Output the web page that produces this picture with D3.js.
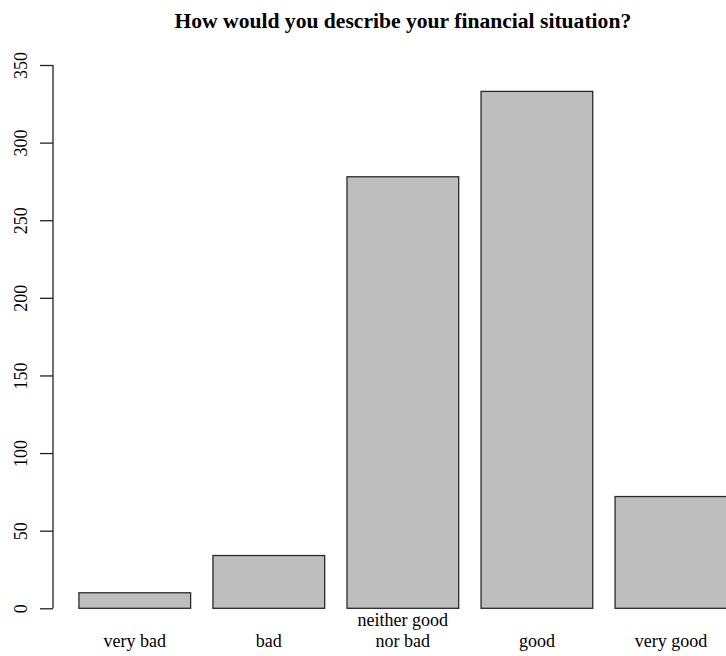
<!DOCTYPE html>
<html>
<head>
<meta charset="utf-8">
<script src="https://cdn.jsdelivr.net/npm/d3@7"></script>
<style>
  html, body { margin: 0; padding: 0; background: #fff; }
  svg { display: block; }
  text { font-family: "Liberation Serif", "Times New Roman", serif; fill: #000; }
</style>
</head>
<body>
<svg id="chart" width="726" height="656"></svg>
<script>
const title = "How would you describe your financial situation?";
const categories = ["very bad", "bad", "neither good\nnor bad", "good", "very good"];
const counts = [10, 34, 278, 333, 72];
const yTicks = [0, 50, 100, 150, 200, 250, 300, 350];

const svg = d3.select("#chart");
const W = 726, H = 656;

// R barplot style: width 1, space 0.2, xlim extended 4%
const barW = 1, space = 0.2;
const xMin = space, xMax = categories.length * (barW + space);
const ext = (xMax - xMin) * 0.04;
const unit = 111.7;
const left = 53;
const x = d3.scaleLinear()
  .domain([xMin - ext, xMax + ext])
  .range([left, left + (xMax - xMin + 2 * ext) * unit]);
const y = d3.scaleLinear().domain([0, 350]).range([608.3, 65]);

// bars
svg.append("g").selectAll("rect")
  .data(counts)
  .join("rect")
  .attr("x", (d, i) => x(space + i * (barW + space)))
  .attr("width", (d, i) => x(space + i * (barW + space) + barW) - x(space + i * (barW + space)))
  .attr("y", d => y(d))
  .attr("height", d => y(0) - y(d))
  .attr("fill", "#bebebe")
  .attr("stroke", "#2a2a2a")
  .attr("stroke-width", 1.3);

// y axis
const yAxis = d3.axisLeft(y).tickValues(yTicks).tickSize(13).tickPadding(0).tickFormat(d3.format("d"));
const gy = svg.append("g").attr("transform", `translate(${x(xMin - ext)},0)`).call(yAxis);
gy.select(".domain").remove();
gy.append("line")
  .attr("x1", 0).attr("x2", 0)
  .attr("y1", y(yTicks[0])).attr("y2", y(yTicks[yTicks.length - 1]))
  .attr("stroke", "#222").attr("stroke-width", 1.3);
gy.selectAll(".tick line").attr("stroke", "#222").attr("stroke-width", 1.3);
gy.selectAll(".tick text")
  .attr("x", null).attr("dy", null)
  .attr("text-anchor", "middle")
  .attr("transform", "translate(-26,0) rotate(-90)")
  .attr("font-family", "Liberation Serif")
  .attr("font-size", 18)
  .attr("fill", "#000");

// x labels
const baseLine = 647;
const lineH = 21;
categories.forEach((c, i) => {
  const lines = c.split("\n");
  const cx = x(space + i * (barW + space) + barW / 2);
  const t = svg.append("text")
    .attr("text-anchor", "middle")
    .attr("font-size", 18);
  lines.forEach((ln, j) => {
    t.append("tspan")
      .attr("x", cx)
      .attr("y", baseLine - (lines.length - 1 - j) * lineH)
      .text(ln);
  });
});

// title
svg.append("text")
  .attr("x", x((xMin + xMax) / 2))
  .attr("y", 28)
  .attr("text-anchor", "middle")
  .attr("font-size", 21.6)
  .attr("font-weight", "bold")
  .text(title);
</script>
</body>
</html>
